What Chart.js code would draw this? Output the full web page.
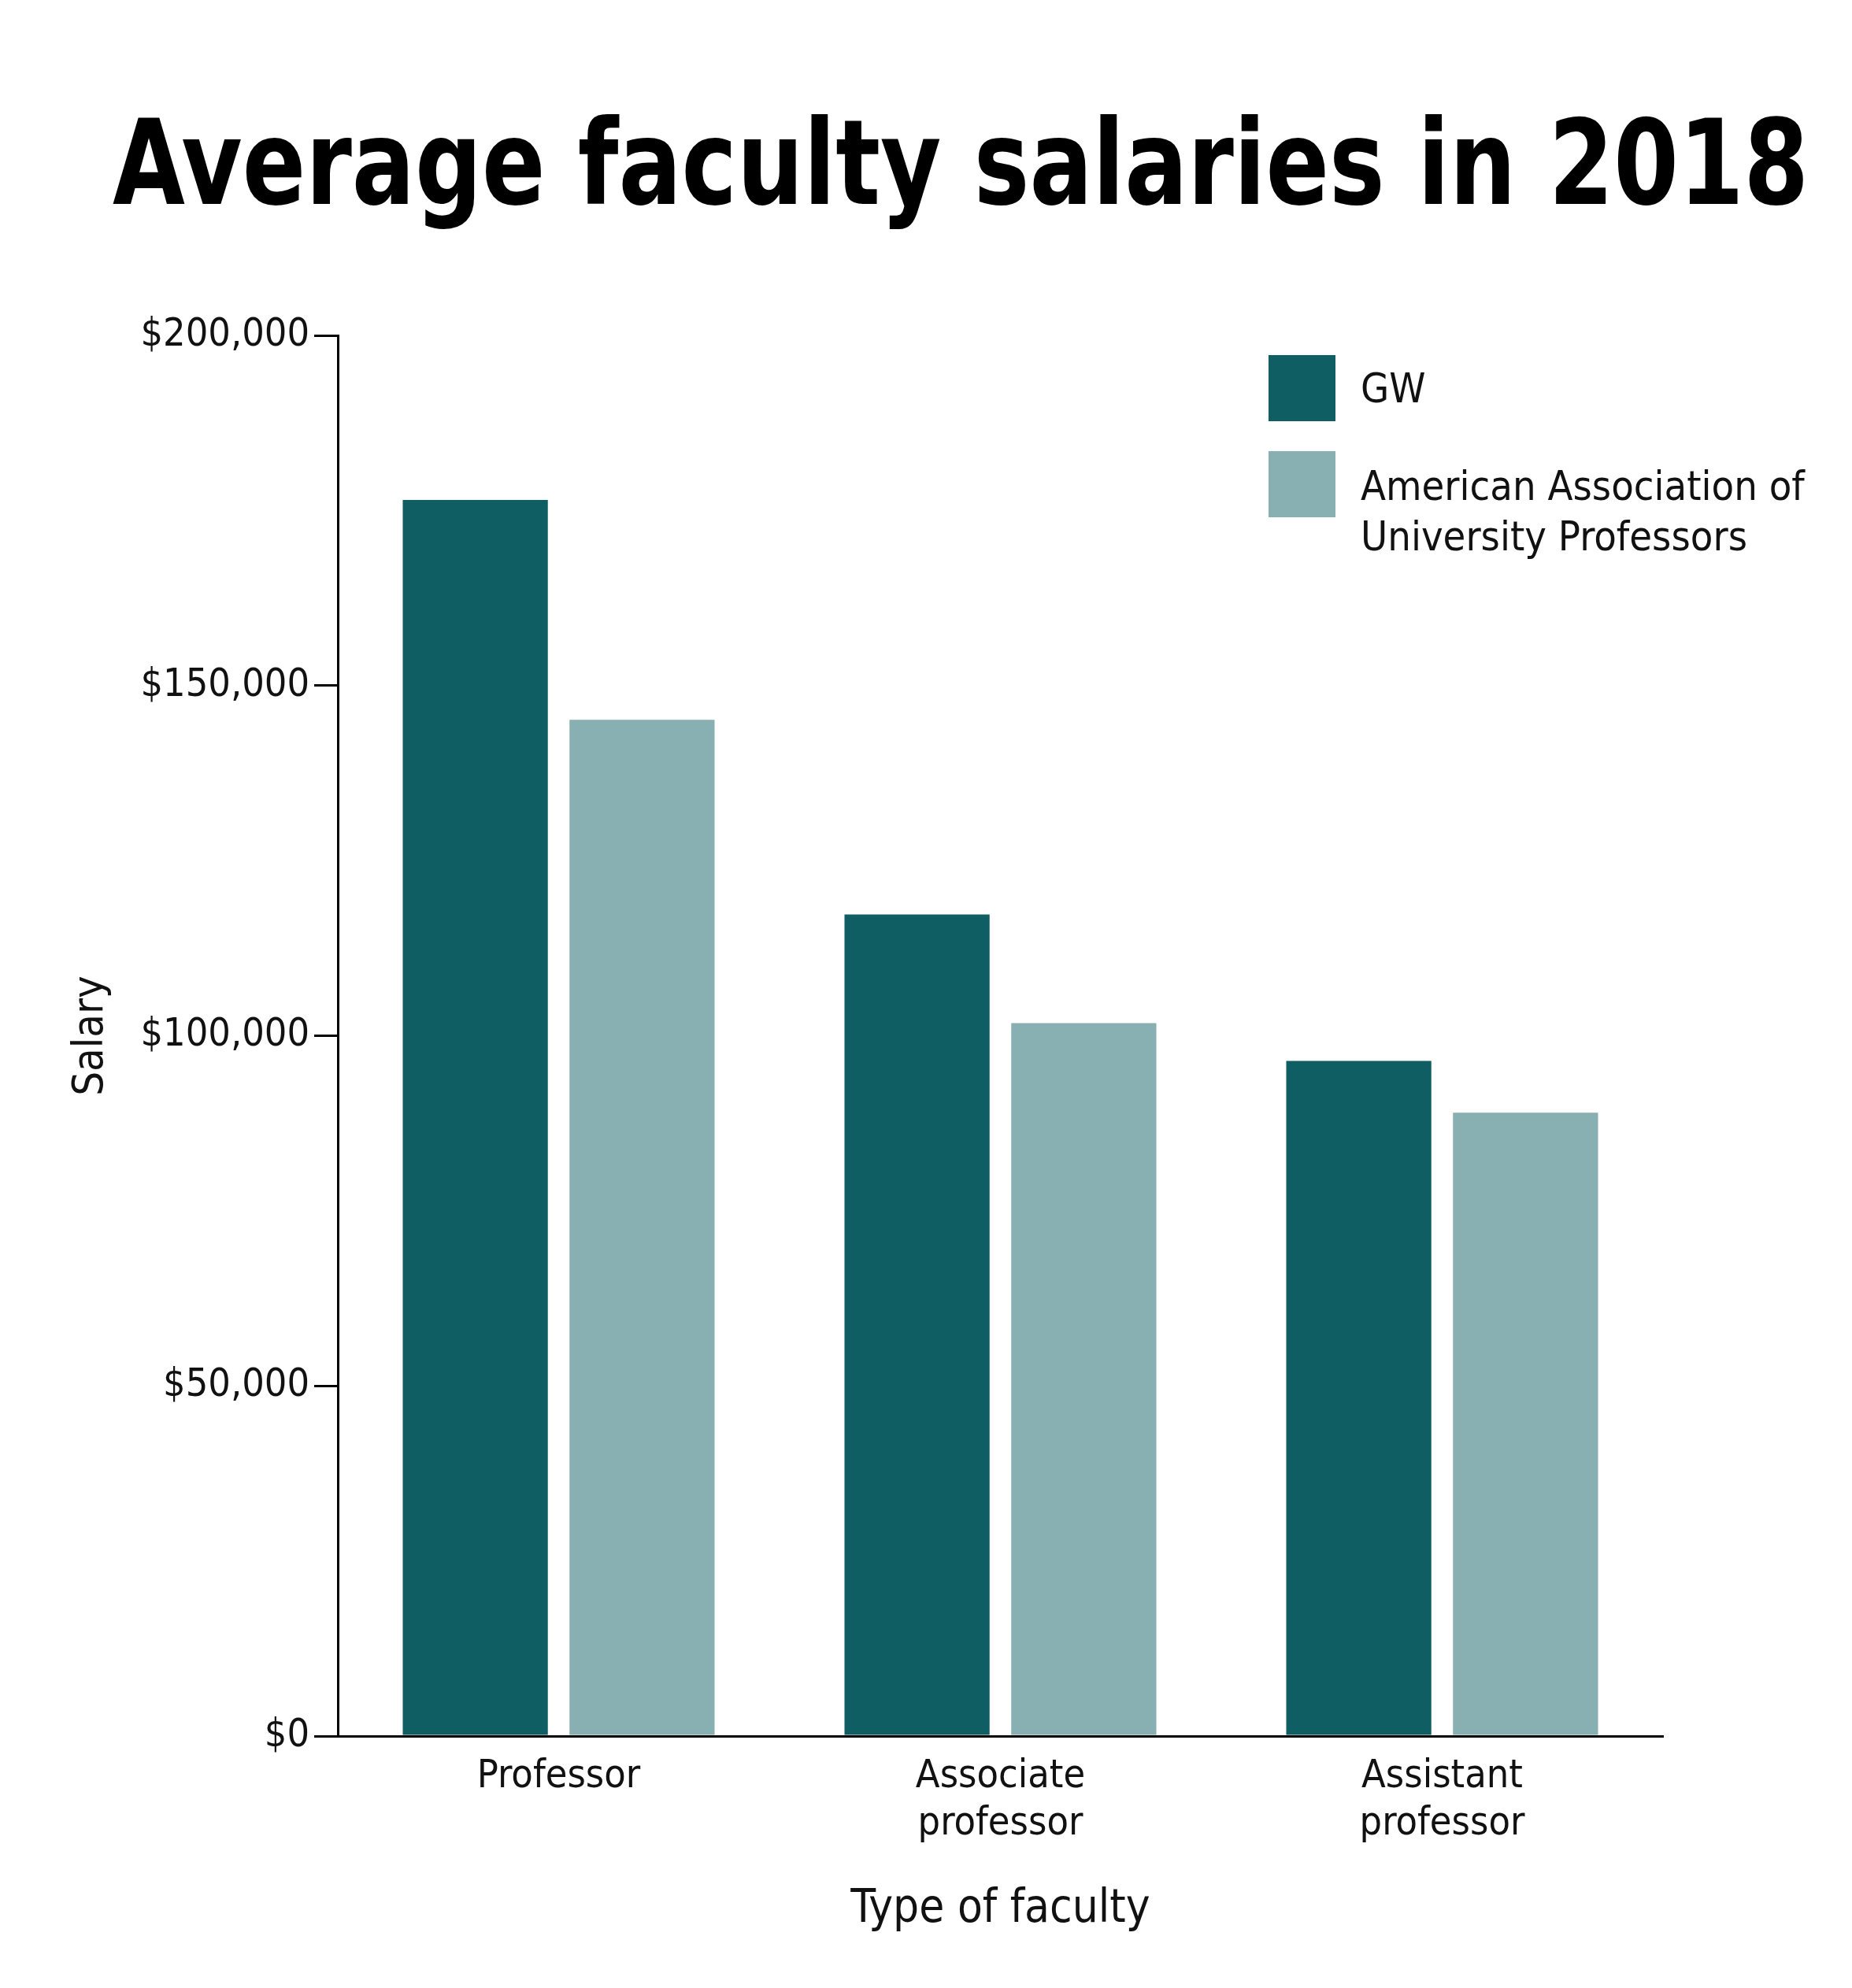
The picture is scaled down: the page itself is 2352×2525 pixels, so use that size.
<!DOCTYPE html>
<html lang="en">
<head>
<meta charset="UTF-8">
<title>Average faculty salaries in 2018</title>
<script src="https://cdn.jsdelivr.net/npm/chart.js@4"></script>
<style>
  * { margin: 0; padding: 0; box-sizing: border-box; }
  body { width: 2352px; height: 2525px; background: #fff; position: relative; overflow: hidden;
         font-family: 'Liberation Sans Narrow', 'DejaVu Sans Condensed', 'Roboto', sans-serif; }
  h1 { position: absolute; top: 120px; left: 0; width: 2352px; text-align: center; white-space: nowrap;
       font-size: 150px; font-weight: bold; color: #000; transform: scaleX(0.88); transform-origin: 1192px 0; }
  .legend { position: absolute; left: 1611px; font-size: 52px; color: #111; }
  .legend .sw { position: absolute; left: 0; width: 85px; height: 84px; }
  .legend .tx { position: absolute; left: 117px; white-space: nowrap; line-height: 64px; }
  #wrap { position: absolute; left: 0; top: 0; width: 2352px; height: 2525px; }
</style>
</head>
<body>
<div id="wrap"><canvas id="chart"></canvas></div>
<h1>Average faculty salaries in 2018</h1>
<div class="legend" style="top:451px">
  <div class="sw" style="background:#0f5e63"></div>
  <div class="tx" style="top:10px">GW</div>
</div>
<div class="legend" style="top:573px">
  <div class="sw" style="background:#88afb1"></div>
  <div class="tx" style="top:12px">American Association of<br>University Professors</div>
</div>
<script>
  // chart data
  const categories = [['Professor'], ['Associate', 'professor'], ['Assistant', 'professor']];
  const gwSalaries = [176500, 117300, 96400];
  const aaupSalaries = [145100, 101800, 89000];
  const yTicks = [0, 50000, 100000, 150000, 200000];

  const font = "'Liberation Sans Narrow', 'DejaVu Sans Condensed', 'Roboto', sans-serif";

  new Chart(document.getElementById('chart'), {
    type: 'bar',
    data: {
      labels: categories,
      datasets: [
        { label: 'GW', data: gwSalaries, backgroundColor: '#0f5e63' },
        { label: 'American Association of University Professors', data: aaupSalaries, backgroundColor: '#88afb1' }
      ]
    },
    options: {
      responsive: true,
      maintainAspectRatio: false,
      animation: false,
      categoryPercentage: 0.755,
      barPercentage: 0.87,
      layout: { padding: { left: 80, right: 240, top: 426, bottom: 60 } },
      plugins: { legend: { display: false }, tooltip: { enabled: false } },
      scales: {
        x: {
          afterFit: s => { s.height = 260; },
          grid: { display: false, drawTicks: false },
          border: { color: '#000', width: 3 },
          ticks: { color: '#111', font: { family: font, size: 50 }, padding: 22, lineHeight: 1.25 },
          title: { display: true, text: 'Type of faculty', color: '#111',
                   font: { family: font, size: 58 }, padding: { top: 20 } }
        },
        y: {
          min: 0, max: 200000,
          afterFit: s => { s.width = 349; },
          afterBuildTicks: s => { s.ticks = yTicks.map(v => ({ value: v })); },
          grid: { drawOnChartArea: false, drawTicks: true, tickLength: 30, color: '#000', lineWidth: 3 },
          border: { color: '#000', width: 3 },
          ticks: { color: '#111', font: { family: font, size: 50 }, padding: 6,
                   callback: v => '$' + v.toLocaleString('en-US') },
          title: { display: true, text: 'Salary', color: '#111',
                   font: { family: font, size: 54 }, padding: { bottom: 10 } }
        }
      }
    }
  });
</script>
</body>
</html>
